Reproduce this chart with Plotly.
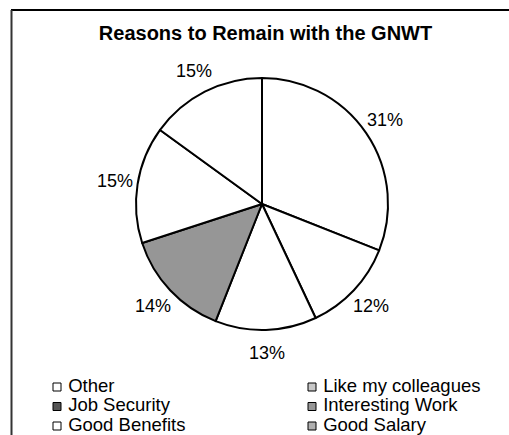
import math
import plotly.graph_objects as go

# ---- data ----
categories = ["Other", "Like my colleagues", "Job Security",
              "Interesting Work", "Good Benefits", "Good Salary"]
percent_values = [31, 12, 13, 14, 15, 15]
title_text = "Reasons to Remain with the GNWT"

# ---- styles ----
slice_colors = ["#ffffff", "#ffffff", "#ffffff", "#969696", "#ffffff", "#ffffff"]
legend_colors = ["#ffffff", "#c8c8c8", "#555555", "#969696", "#ffffff", "#b0b0b0"]

W, H = 509, 435
CX, CY, R = 262, 204, 126      # pie centre / radius in pixels
LABEL_R = 149                   # radius of percentage labels

fig = go.Figure()

fig.add_trace(go.Pie(
    labels=categories,
    values=percent_values,
    sort=False,
    direction="clockwise",
    rotation=0,
    marker=dict(colors=slice_colors, line=dict(color="#000000", width=2)),
    textinfo="none",
    domain=dict(x=[(CX - R) / W, (CX + R) / W], y=[1 - (CY + R) / H, 1 - (CY - R) / H]),
    showlegend=False,
    hoverinfo="label+percent",
))

# percentage labels, placed at the middle angle of each slice
total = sum(percent_values)
annotations = []
cum = 0
for v in percent_values:
    mid = (cum + v / 2) / total
    cum += v
    th = 2 * math.pi * mid
    x = CX + LABEL_R * math.sin(th)
    y = CY - LABEL_R * math.cos(th)
    annotations.append(dict(
        x=x / W, y=1 - y / H, xref="paper", yref="paper",
        text=f"{round(v / total * 100)}%", showarrow=False,
        xanchor="center", yanchor="middle",
        font=dict(family="Liberation Sans, Arial", size=18, color="#000000"),
    ))

# legend drawn as a 2-column grid
for i, (cat, col) in enumerate(zip(categories, legend_colors)):
    r, c = divmod(i, 2)
    fig.add_trace(go.Scatter(
        x=[57 + c * 255], y=[387 + r * 19.5],
        mode="markers+text",
        text=["\u00a0" + cat],
        textposition="middle right",
        textfont=dict(family="Liberation Sans, Arial", size=18.5, color="#000000"),
        marker=dict(symbol="square", size=8, color=col,
                    line=dict(color="#000000", width=1)),
        showlegend=False,
        hoverinfo="skip",
        cliponaxis=False,
    ))

fig.update_layout(
    width=W, height=H,
    margin=dict(l=0, r=0, t=0, b=0),
    paper_bgcolor="#ffffff",
    plot_bgcolor="rgba(0,0,0,0)",
    showlegend=False,
    annotations=annotations,
    title=dict(text="<b>" + title_text + "</b>", x=265.5 / W, xanchor="center",
               y=1 - 33 / H, yanchor="middle",
               font=dict(family="Liberation Sans, Arial", size=20, color="#000000")),
    xaxis=dict(visible=False, range=[0, W], domain=[0, 1], fixedrange=True),
    yaxis=dict(visible=False, range=[H, 0], domain=[0, 1], fixedrange=True),
    shapes=[
        dict(type="line", xref="paper", yref="paper", x0=11 / W, x1=1.02,
             y0=1 - 10 / H, y1=1 - 10 / H, line=dict(color="#000000", width=2)),
        dict(type="line", xref="paper", yref="paper", x0=11.5 / W, x1=11.5 / W,
             y0=1 - 10 / H, y1=-0.05, line=dict(color="#333333", width=2)),
    ],
)

fig.write_html("out.html")
